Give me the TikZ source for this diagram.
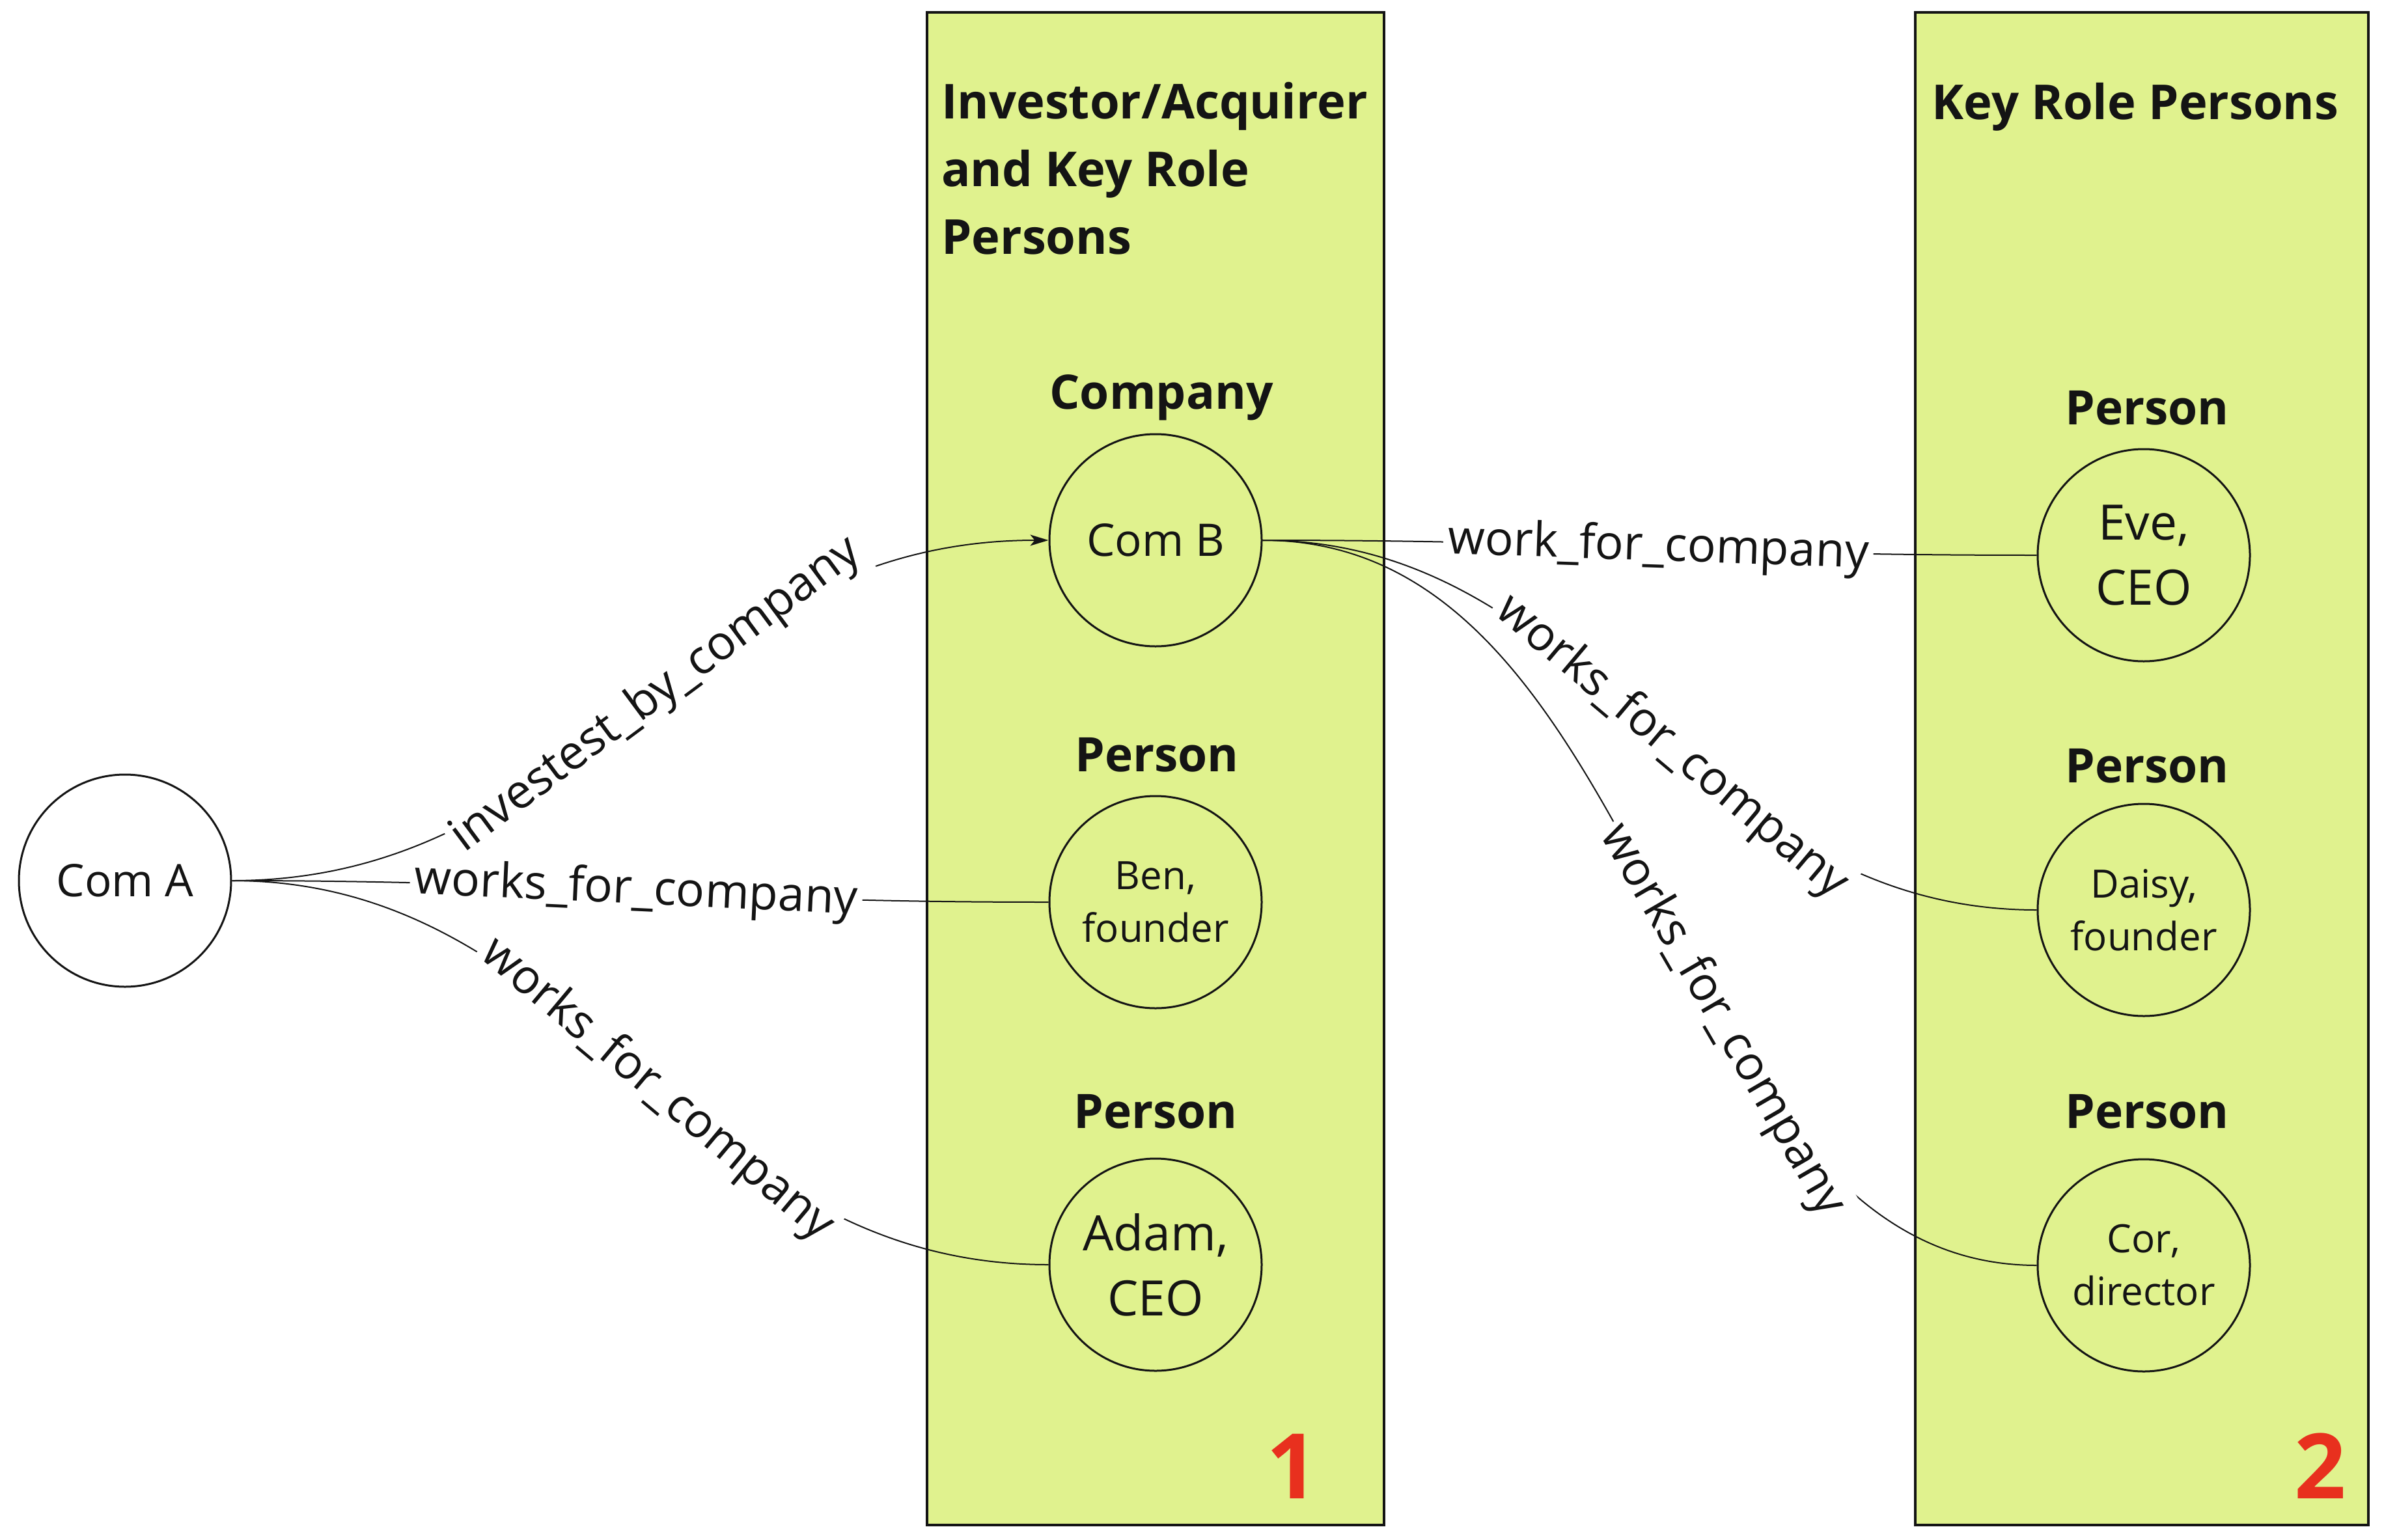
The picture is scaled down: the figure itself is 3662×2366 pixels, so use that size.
\documentclass[tikz,border=0pt]{standalone}
\usepackage{fontspec}
\setmainfont{Open Sans}
\usetikzlibrary{arrows.meta}
\definecolor{boxfill}{HTML}{E0F28E}
\definecolor{numred}{HTML}{E8301E}
\definecolor{ink}{HTML}{141414}
\begin{document}
\begin{tikzpicture}[x=1pt,y=-1pt,
  panel/.style={draw=ink, line width=3.5pt, fill=boxfill, inner sep=0pt},
  ent/.style={circle, draw=ink, line width=3pt, fill=boxfill, minimum size=326pt, inner sep=0pt, align=center, text=ink},
  entbig/.style={ent, font={\fontsize{75}{100}\selectfont}},
  entmid/.style={ent, font={\fontsize{69}{82}\selectfont}},
  entsmall/.style={ent, font={\fontsize{60}{81}\selectfont}},
  head/.style={anchor=base, text=ink, inner sep=0pt, font={\fontsize{73}{90}\selectfont\bfseries}},
  title/.style={text=ink, inner sep=0pt, align=left, font={\fontsize{74}{104}\selectfont\bfseries}},
  num/.style={anchor=base, text=numred, inner sep=0pt, font={\fontsize{139}{160}\selectfont\bfseries}},
  rel/.style={draw=ink, line width=2pt},
  lbl/.style={sloped, fill=white, inner sep=7pt, text=ink, font={\fontsize{73}{88}\selectfont}}
]
\useasboundingbox (0,0) rectangle (3662,2366);
\fill[white] (0,0) rectangle (3662,2366);

% panels
\node[panel, minimum width=702pt, minimum height=2324pt] (box1) at (1775,1181) {};
\node[panel, minimum width=696pt, minimum height=2324pt] (box2) at (3290,1181) {};

% titles
\node[title, anchor=north west] (t1) at (1446,126) {Investor/Acquirer\\and Key Role\\Persons};
\node[title, anchor=base] (t2) at (3280,183) {Key Role Persons};

% headings
\node[head] (hcomp) at (1784,628) {Company};
\node[head] (hben) at (1777,1185) {Person};
\node[head] (hadam) at (1775,1733) {Person};
\node[head] (heve) at (3298,652) {Person};
\node[head] (hdaisy) at (3298,1202) {Person};
\node[head] (hcor) at (3298,1733) {Person};

% entities
\node[entmid, fill=white] (comA) at (192,1353) {Com A};
\node[entmid] (comB) at (1775,830) {Com B};
\node[entsmall] (ben) at (1775,1386) {Ben,\\founder};
\node[entbig] (adam) at (1775,1943) {Adam,\\CEO};
\node[entbig] (eve) at (3293,853) {Eve,\\CEO};
\node[entsmall] (daisy) at (3293,1398) {Daisy,\\founder};
\node[entsmall] (cor) at (3293,1944) {Cor,\\director};

% relations
\draw[rel, -{Stealth[length=28pt,width=17pt,inset=7pt]}] (comA.east) .. controls +(545,0) and +(-562,0) .. (comB.west)
  node[lbl, pos=0.53] (l1) {investest\_by\_company};
\draw[rel] (comA.east) .. controls +(545,0) and +(-562,0) .. (ben.west)
  node[lbl, pos=0.5] (l2) {works\_for\_company};
\draw[rel] (comA.east) .. controls +(545,0) and +(-562,0) .. (adam.west)
  node[lbl, pos=0.53] (l3) {works\_for\_company};
\draw[rel] (comB.east) .. controls +(512,0) and +(-530,0) .. (eve.west)
  node[lbl, pos=0.52] (l4) {work\_for\_company};
\draw[rel] (comB.east) .. controls +(512,0) and +(-530,0) .. (daisy.west)
  node[lbl, pos=0.54] (l5) {works\_for\_company};
\draw[rel] (comB.east) .. controls +(612,0) and +(-580,0) .. (cor.west)
  node[lbl, pos=0.61] (l6) {works\_for\_company};

% numbers
\node[num] (n1) at (1985,2302) {1};
\node[num] (n2) at (3564,2302) {2};
\end{tikzpicture}
\end{document}
